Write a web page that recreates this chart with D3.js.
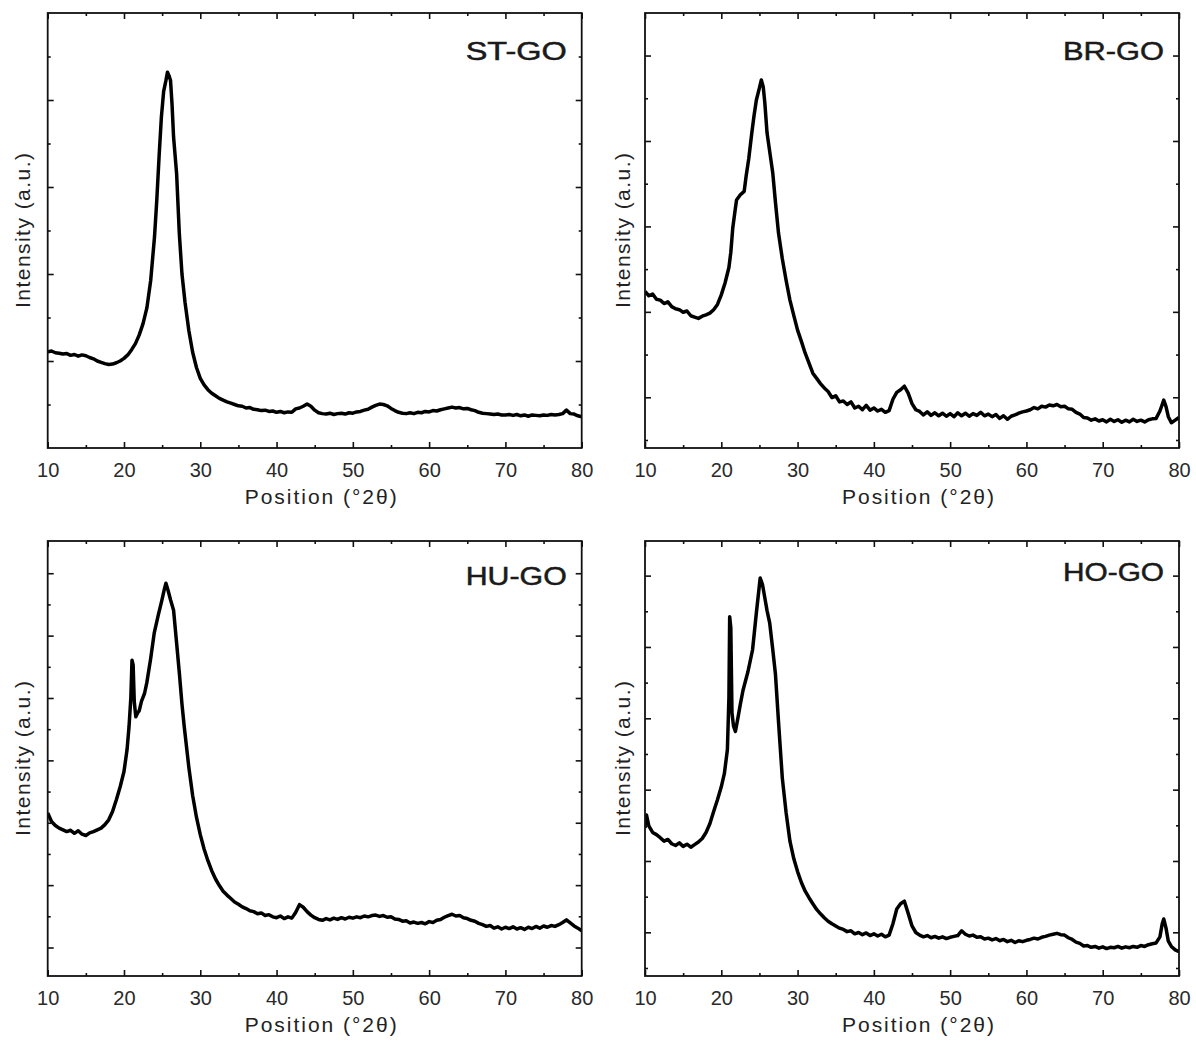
<!DOCTYPE html>
<html>
<head>
<meta charset="utf-8">
<script src="https://cdn.jsdelivr.net/npm/d3@7"></script>
<style>
  body { margin: 0; background: #fff; }
  svg { display: block; }
  text { font-family: "Liberation Sans", Arial, sans-serif; }
</style>
</head>
<body>
<svg id="fig" width="1196" height="1041"></svg>
<script>
// Diffraction angle axis
const angleTicks = [10, 20, 30, 40, 50, 60, 70, 80];
const angleMinorTicks = [15, 25, 35, 45, 55, 65, 75];
const sampleNames = ["ST-GO", "BR-GO", "HU-GO", "HO-GO"];

// XRD patterns: [2θ (deg), intensity (a.u.)]
const stGO = [
  [10,22.1],[10.5,22.3],[11,21.9],[11.5,21.8],[12,21.6],[12.5,21.7],[13,21.3],[13.5,21.5],[14,21.1],[14.5,21.4],
  [15,21.2],[15.5,20.8],[16,20.5],[16.5,20.0],[17,19.7],[17.5,19.4],[18,19.2],[18.5,19.3],[19,19.6],[19.5,20.0],
  [20,20.6],[20.5,21.4],[21,22.6],[21.5,24.0],[22,26.0],[22.5,28.6],[23,32.2],[23.5,38.5],[24,48.5],[24.3,57],
  [24.6,67],[24.9,76],[25.2,82],[25.5,84.5],[25.7,86.4],[25.9,85.6],[26.1,84.5],[26.3,79],[26.5,71.5],[26.9,63],
  [27.25,49.4],[27.6,40],[28,33.5],[28.5,27],[29,22],[29.5,18.5],[30,16],[30.5,14.5],[31,13.4],[31.5,12.6],
  [32,12.0],[32.5,11.4],[33,11.0],[33.5,10.6],[34,10.3],[34.5,10.0],[35,9.7],[35.5,9.6],[36,9.2],[36.5,9.3],
  [37,8.9],[37.5,8.8],[38,8.6],[38.5,8.7],[39,8.4],[39.5,8.5],[40,8.2],[40.5,8.4],[41,8.1],[41.5,8.3],
  [42,8.2],[42.5,9.0],[43,9.2],[43.5,9.6],[44,10.1],[44.5,9.6],[45,8.7],[45.5,8.1],[46,7.9],[46.5,7.8],
  [47,8.0],[47.5,7.7],[48,7.9],[48.5,8.0],[49,7.8],[49.5,8.1],[50,8.0],[50.5,8.3],[51,8.4],[51.5,8.7],
  [52,8.9],[52.5,9.4],[53,9.8],[53.5,10.1],[54,10.0],[54.5,9.7],[55,9.1],[55.5,8.6],[56,8.2],[56.5,8.0],
  [57,7.9],[57.5,8.1],[58,7.9],[58.5,8.2],[59,8.1],[59.5,8.4],[60,8.3],[60.5,8.6],[61,8.5],[61.5,8.8],
  [62,9.0],[62.5,9.2],[63,9.4],[63.5,9.2],[64,9.3],[64.5,9.0],[65,9.1],[65.5,8.8],[66,8.6],[66.5,8.2],
  [67,8.0],[67.5,7.9],[68,7.8],[68.5,7.7],[69,7.8],[69.5,7.6],[70,7.6],[70.5,7.7],[71,7.5],[71.5,7.7],
  [72,7.4],[72.5,7.6],[73,7.3],[73.5,7.6],[74,7.5],[74.5,7.4],[75,7.6],[75.5,7.5],[76,7.7],[76.5,7.6],
  [77,7.7],[77.5,7.9],[78,8.7],[78.5,7.9],[79,7.8],[79.5,7.4],[80,7.2]
];

const brGO = [
  [10,36.0],[10.5,35.0],[11,35.4],[11.5,34.2],[12,34.0],[12.5,33.2],[13,33.6],[13.5,32.5],[14,32.0],[14.5,31.8],
  [15,31.2],[15.5,31.5],[16,30.4],[16.5,30.1],[17,29.8],[17.5,30.3],[18,30.6],[18.5,31.0],[19,31.8],[19.5,33.0],
  [20,35.2],[20.5,38.0],[21,41.5],[21.25,45],[21.5,50.5],[21.8,54.5],[22,57.0],[22.5,58.2],[23,59.0],[23.25,62.4],[23.6,66.5],
  [24,72.4],[24.3,76.5],[24.6,80],[25.0,82.8],[25.25,84.6],[25.5,83.0],[25.7,79.5],[26,72.4],[26.4,67.5],[26.75,63.2],
  [27.1,56.5],[27.5,49.4],[28,43.5],[28.5,38.5],[29,34.0],[29.5,30.5],[30,27.1],[30.5,24.5],[31,21.8],[31.5,19.5],
  [32,17.2],[32.5,16.0],[33,14.8],[33.5,13.8],[34,13.0],[34.5,11.6],[35,12.0],[35.5,10.6],[36,10.8],[36.5,10.0],
  [37,10.6],[37.5,9.2],[38,9.6],[38.5,8.8],[39,9.8],[39.5,8.7],[40,9.2],[40.5,8.5],[41,8.9],[41.5,8.2],
  [42,8.6],[42.5,11.2],[43,12.8],[43.5,13.4],[44,14.2],[44.5,12.6],[45,10.2],[45.5,8.8],[46,8.4],[46.5,7.6],
  [47,8.3],[47.5,7.5],[48,8.1],[48.5,7.4],[49,8.0],[49.5,7.3],[50,7.9],[50.5,7.2],[51,8.1],[51.5,7.4],
  [52,8.0],[52.5,7.3],[53,7.9],[53.5,7.5],[54,8.2],[54.5,7.4],[55,7.8],[55.5,7.2],[56,7.7],[56.5,6.8],
  [57,7.4],[57.5,6.6],[58,7.3],[58.5,7.6],[59,8.0],[59.5,8.3],[60,8.5],[60.5,8.8],[61,9.3],[61.5,9.0],
  [62,9.6],[62.5,9.4],[63,9.9],[63.5,9.7],[64,10.0],[64.5,9.5],[65,9.6],[65.5,9.0],[66,8.9],[66.5,8.2],
  [67,7.8],[67.5,7.0],[68,6.9],[68.5,6.4],[69,6.7],[69.5,6.2],[70,6.5],[70.5,6.0],[71,6.6],[71.5,6.1],
  [72,6.5],[72.5,5.9],[73,6.4],[73.5,6.0],[74,6.6],[74.5,6.1],[75,6.4],[75.5,6.0],[76,6.5],[76.5,6.7],
  [77,6.8],[77.5,8.5],[77.8,10.0],[78,11.0],[78.3,9.5],[78.6,7.2],[79,5.8],[79.5,6.4],[80,7.0]
];

const huGO = [
  [10,37.5],[10.5,35.5],[11,34.6],[11.5,34.0],[12,33.6],[12.5,33.2],[13,33.5],[13.5,32.8],[14,33.4],[14.5,32.6],
  [15,32.3],[15.5,32.9],[16,33.2],[16.5,33.6],[17,34.0],[17.5,34.8],[18,35.9],[18.5,37.8],[19,40.5],[19.5,43.5],
  [20,47.0],[20.4,52.0],[20.66,57.3],[20.9,64],[21.05,72.6],[21.2,71.5],[21.35,63],[21.55,59.6],[21.8,60.5],[22,61.0],
  [22.3,63.2],[22.7,65.0],[23,67.5],[23.5,73.0],[23.96,78.8],[24.5,83.0],[24.97,86.4],[25.3,89.0],[25.5,90.3],[25.8,88.5],
  [26.1,86.5],[26.5,84.1],[26.9,76.5],[27.26,69.6],[27.6,62.5],[27.9,57.3],[28.5,48.0],[29,41.5],[29.5,36.5],[30,32.5],
  [30.5,29.2],[31,26.5],[31.5,24.2],[32,22.3],[32.5,20.8],[33,19.5],[33.5,18.6],[34,17.8],[34.5,17.0],[35,16.5],
  [35.5,15.9],[36,15.5],[36.5,15.0],[37,14.8],[37.5,14.3],[38,14.5],[38.5,13.9],[39,14.1],[39.5,13.6],[40,13.4],
  [40.5,13.8],[41,13.2],[41.5,13.6],[42,13.3],[42.5,14.6],[43,16.4],[43.5,15.8],[44,14.8],[44.5,14.0],[45,13.4],
  [45.5,13.0],[46,12.8],[46.5,13.2],[47,12.9],[47.5,13.3],[48,13.0],[48.5,13.4],[49,13.1],[49.5,13.5],[50,13.3],
  [50.5,13.6],[51,13.4],[51.5,13.8],[52,13.6],[52.5,13.9],[53,14.0],[53.5,13.7],[54,13.9],[54.5,13.5],[55,13.6],
  [55.5,13.1],[56,13.0],[56.5,12.6],[57,12.7],[57.5,12.2],[58,12.4],[58.5,12.1],[59,12.3],[59.5,12.0],[60,12.5],
  [60.5,12.3],[61,12.8],[61.5,13.0],[62,13.5],[62.5,13.9],[63,14.2],[63.5,13.8],[64,13.9],[64.5,13.4],[65,13.2],
  [65.5,12.8],[66,12.6],[66.5,12.1],[67,11.8],[67.5,11.4],[68,11.6],[68.5,11.0],[69,11.3],[69.5,10.8],[70,11.2],
  [70.5,10.9],[71,11.3],[71.5,10.8],[72,11.1],[72.5,10.7],[73,11.2],[73.5,10.9],[74,11.4],[74.5,11.0],[75,11.5],
  [75.5,11.2],[76,11.6],[76.5,11.4],[77,11.8],[77.5,12.3],[78,12.9],[78.5,12.2],[79,11.5],[79.5,11.0],[80,10.4]
];

const hoGO = [
  [10,34.0],[10.2,37.0],[10.5,34.5],[11,33.0],[11.5,32.5],[12,31.8],[12.5,31.0],[13,31.4],[13.5,30.4],[14,30.0],
  [14.5,30.6],[15,29.8],[15.5,30.3],[16,29.6],[16.5,30.2],[17,30.8],[17.5,31.6],[18,33.0],[18.5,35.0],[19,37.8],
  [19.5,40.5],[20,43.5],[20.4,46.5],[20.8,52.0],[21.0,64],[21.1,82.6],[21.25,80],[21.4,60.5],[21.6,57.5],[21.85,56.2],
  [22.2,59.5],[22.5,62.5],[22.85,65.7],[23.5,70.0],[24.1,75.0],[24.6,83.5],[25.1,91.5],[25.4,90.0],[25.7,87.0],[26.0,84.0],
  [26.35,81.1],[26.75,75.0],[27.1,69.4],[27.5,58.5],[28,45.5],[28.5,37.5],[29,31.0],[29.5,27.0],[30,24.0],
  [30.5,21.5],[31,19.5],[31.5,18.0],[32,16.6],[32.5,15.3],[33,14.3],[33.5,13.4],[34,12.6],[34.5,12.0],[35,11.5],
  [35.5,11.0],[36,10.7],[36.5,10.2],[37,10.4],[37.5,9.7],[38,10.0],[38.5,9.5],[39,9.9],[39.5,9.3],[40,9.7],
  [40.5,9.2],[41,9.6],[41.5,9.0],[42,9.4],[42.5,12.0],[43,15.4],[43.5,16.6],[44,17.2],[44.5,14.4],[45,11.5],
  [45.5,10.0],[46,9.4],[46.5,9.0],[47,9.3],[47.5,8.8],[48,9.1],[48.5,8.7],[49,9.0],[49.5,8.6],[50,8.9],
  [50.5,9.1],[51,9.3],[51.5,10.4],[52,9.6],[52.5,9.2],[53,9.4],[53.5,8.9],[54,9.0],[54.5,8.5],[55,8.7],
  [55.5,8.3],[56,8.6],[56.5,8.1],[57,8.4],[57.5,7.9],[58,8.2],[58.5,7.7],[59,8.1],[59.5,7.9],[60,8.2],
  [60.5,8.4],[61,8.7],[61.5,8.5],[62,8.9],[62.5,9.1],[63,9.4],[63.5,9.6],[64,9.8],[64.5,9.5],[65,9.4],
  [65.5,8.8],[66,8.4],[66.5,7.8],[67,7.5],[67.5,6.9],[68,7.0],[68.5,6.6],[69,6.8],[69.5,6.4],[70,6.7],
  [70.5,6.3],[71,6.6],[71.5,6.5],[72,6.8],[72.5,6.4],[73,6.7],[73.5,6.5],[74,6.8],[74.5,6.6],[75,7.0],
  [75.5,6.8],[76,7.2],[76.5,7.4],[77,7.6],[77.5,9.0],[77.8,12.0],[78,13.1],[78.3,11.0],[78.6,8.0],[79,6.8],
  [79.5,6.0],[80,5.6]
];

const patterns = [stGO, brGO, huGO, hoGO];

// Intensity axis ticks (unlabelled): first tick, spacing, and which alternate ticks are long
const intensityTickStart = [10, 1.84, 6.55, 1.84];
const intensityTickStep = [10, 9.82, 7.17, 8.2];
const intensityMajorParity = [1, 1, 0, 1];

// ---- layout ----
const W = 534, H = 435;
const origins = [[47.7, 13], [645, 13], [47.7, 541], [645, 541]];
const labelTop = [47, 47, 44, 40];
const ink = "#111";

const svg = d3.select("#fig");

patterns.forEach((data, i) => {
  const [ox, oy] = origins[i];
  const g = svg.append("g").attr("transform", `translate(${ox},${oy})`);

  const x = d3.scaleLinear().domain([10, 80]).range([0, W]);
  const y = d3.scaleLinear().domain([0, 100]).range([H, 0]);

  const clipId = "clip" + i;
  g.append("clipPath").attr("id", clipId)
    .append("rect").attr("x", 0).attr("y", 0).attr("width", W).attr("height", H);

  // pattern trace
  g.append("path")
    .datum(data)
    .attr("clip-path", `url(#${clipId})`)
    .attr("fill", "none")
    .attr("stroke", "#000")
    .attr("stroke-width", 3.5)
    .attr("stroke-linejoin", "round")
    .attr("d", d3.line().x(d => x(d[0])).y(d => y(d[1])));

  // x ticks, inward, bottom with labels
  const styleAxis = sel => {
    sel.select(".domain").remove();
    sel.selectAll(".tick line").attr("stroke", ink).attr("stroke-width", 1.6);
  };
  g.append("g").attr("transform", `translate(0,${H})`)
    .call(d3.axisBottom(x).tickValues(angleTicks).tickSize(-6).tickPadding(14.8).tickFormat(d3.format("d")))
    .call(styleAxis)
    .call(s => s.selectAll("text")
      .attr("font-size", 20).attr("fill", "#2a2a2a")
      .style("font-family", '"Liberation Sans", Arial, sans-serif'));
  g.append("g").attr("transform", `translate(0,${H})`)
    .call(d3.axisBottom(x).tickValues(angleMinorTicks).tickSize(-3).tickFormat(""))
    .call(styleAxis);
  g.append("g")
    .call(d3.axisTop(x).tickValues(angleTicks).tickSize(-6).tickFormat(""))
    .call(styleAxis);
  g.append("g")
    .call(d3.axisTop(x).tickValues(angleMinorTicks).tickSize(-3).tickFormat(""))
    .call(styleAxis);

  // y ticks, inward, both sides, no labels
  const yt = d3.range(intensityTickStart[i], 99.5, intensityTickStep[i]);
  const yMajor = yt.filter((_, k) => k % 2 === intensityMajorParity[i]);
  const yMinor = yt.filter((_, k) => k % 2 !== intensityMajorParity[i]);
  [[yMajor, 6], [yMinor, 3]].forEach(([vals, len]) => {
    g.append("g")
      .call(d3.axisLeft(y).tickValues(vals).tickSize(-len).tickFormat(""))
      .call(styleAxis);
    g.append("g").attr("transform", `translate(${W},0)`)
      .call(d3.axisRight(y).tickValues(vals).tickSize(-len).tickFormat(""))
      .call(styleAxis);
  });

  // frame
  g.append("rect")
    .attr("x", 0).attr("y", 0).attr("width", W).attr("height", H)
    .attr("fill", "none").attr("stroke", ink).attr("stroke-width", 1.8);

  // axis titles
  g.append("text")
    .attr("x", W / 2 + 6).attr("y", H + 56)
    .attr("text-anchor", "middle")
    .attr("font-size", 21).attr("fill", "#222")
    .attr("textLength", 152).attr("lengthAdjust", "spacing")
    .text("Position (°2θ)");

  g.append("text")
    .attr("transform", `translate(${i % 2 === 0 ? -17.7 : -15},${H / 2}) rotate(-90)`)
    .attr("text-anchor", "middle")
    .attr("font-size", 21).attr("fill", "#222")
    .attr("textLength", 155).attr("lengthAdjust", "spacing")
    .text("Intensity (a.u.)");

  // sample name
  g.append("text")
    .attr("x", W - 15).attr("y", labelTop[i])
    .attr("text-anchor", "end")
    .attr("font-size", 25).attr("fill", "#1a1a1a")
    .attr("stroke", "#1a1a1a").attr("stroke-width", 0.5)
    .attr("textLength", 101).attr("lengthAdjust", "spacingAndGlyphs")
    .text(sampleNames[i]);
});
</script>
</body>
</html>
